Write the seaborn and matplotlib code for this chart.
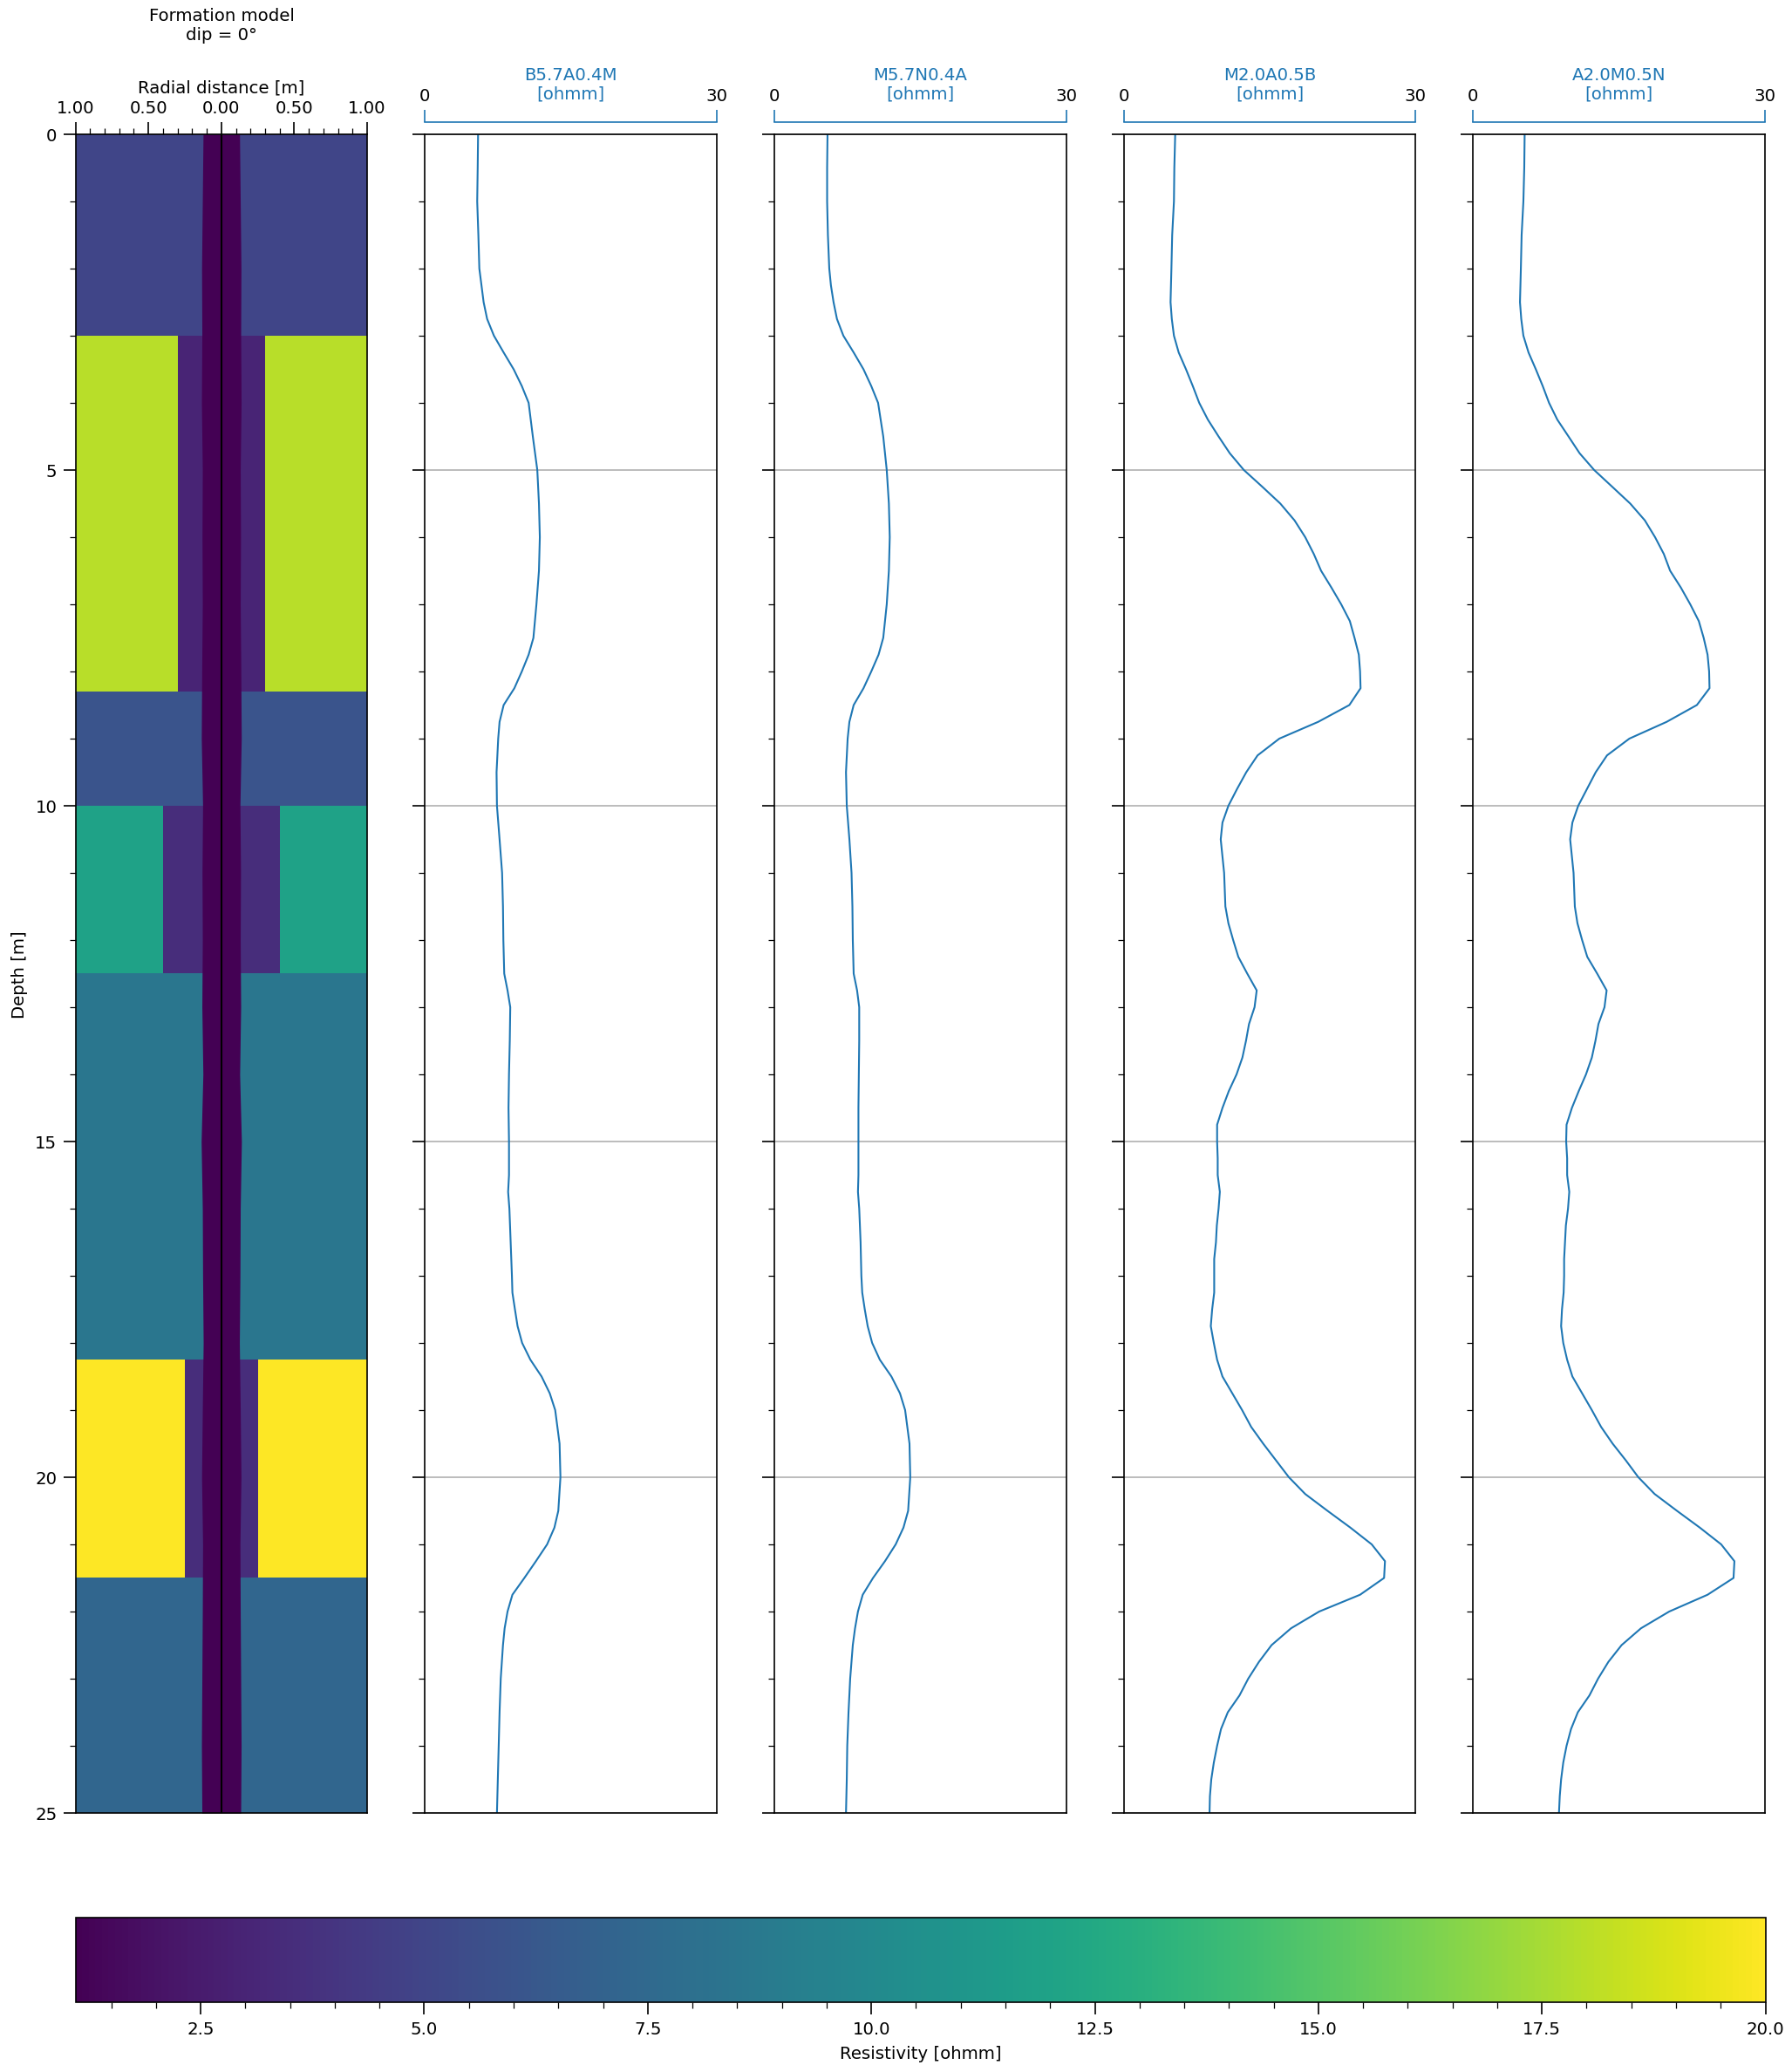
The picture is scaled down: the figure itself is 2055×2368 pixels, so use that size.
import numpy as np
import matplotlib
matplotlib.use("Agg")
import matplotlib.pyplot as plt
import seaborn as sns
from matplotlib.colors import Normalize
from matplotlib.ticker import MultipleLocator, FuncFormatter

plt.rcParams["font.size"] = 9.5
plt.rcParams["axes.linewidth"] = 0.8

# ---- formation model ----
layer_top = [0.0, 3.0, 8.3, 10.0, 12.5, 18.25, 21.5]
layer_bot = [3.0, 8.3, 10.0, 12.5, 18.25, 21.5, 25.0]
layer_rt = [5.0, 18.0, 6.0, 12.0, 8.5, 20.0, 7.3]
layer_rxo = [5.0, 3.0, 6.0, 3.5, 8.5, 3.5, 7.3]
layer_rinv = [0.0, 0.30, 0.0, 0.40, 0.0, 0.25, 0.0]
mud_res = 1.1

mud_depth = [0, 1, 2, 3, 4, 5, 6, 7, 8, 9, 10, 11, 12, 13, 14, 15, 16, 17, 18, 19, 20, 21, 22, 23, 24, 25]
mud_radius = [0.125, 0.130, 0.135, 0.133, 0.136, 0.130, 0.132, 0.130, 0.134, 0.137, 0.128, 0.132, 0.130,
              0.133, 0.126, 0.138, 0.130, 0.128, 0.124, 0.130, 0.135, 0.128, 0.130, 0.133, 0.136, 0.133]

# ---- logs ----
depth_a = [0, 0.5, 1, 1.5, 2, 2.25, 2.5, 2.75, 3, 3.25, 3.5, 3.75, 4, 4.5, 5, 5.5, 6, 6.5, 7, 7.5,
           7.75, 8, 8.25, 8.5, 8.75, 9, 9.5, 10, 10.5, 11, 11.5, 12, 12.5, 12.75, 13, 13.5, 14, 14.5,
           15, 15.5, 15.75, 16, 16.5, 17, 17.25, 17.5, 17.75, 18, 18.25, 18.5, 18.75, 19, 19.5, 20,
           20.5, 20.75, 21, 21.25, 21.5, 21.75, 22, 22.25, 22.5, 23, 23.5, 24, 24.5, 25]
log_b57a04m = [5.47, 5.43, 5.38, 5.5, 5.6, 5.82, 6.04, 6.4, 7.1, 8.1,
               9.13, 9.97, 10.67, 11.1, 11.56, 11.73, 11.82, 11.73, 11.47, 11.16,
               10.67, 9.97, 9.2, 8.1, 7.68, 7.54, 7.37, 7.41, 7.68, 7.94,
               8.03, 8.07, 8.16, 8.5, 8.78, 8.73, 8.65, 8.6, 8.65, 8.65,
               8.56, 8.69, 8.82, 8.95, 9.0, 9.26, 9.53, 10.0, 10.85, 12.0,
               12.84, 13.4, 13.85, 13.94, 13.72, 13.32, 12.57, 11.42, 10.23, 9.0,
               8.5, 8.2, 8.03, 7.8, 7.68, 7.59, 7.5, 7.41]
log_m57n04a = [5.47, 5.43, 5.43, 5.51, 5.65, 5.82, 6.09, 6.44, 7.1, 8.16,
               9.17, 9.97, 10.67, 11.2, 11.56, 11.78, 11.87, 11.78, 11.56, 11.2,
               10.72, 9.97, 9.17, 8.16, 7.72, 7.54, 7.37, 7.45, 7.72, 7.94,
               8.03, 8.07, 8.16, 8.51, 8.73, 8.73, 8.69, 8.65, 8.65, 8.65,
               8.6, 8.73, 8.87, 8.95, 9.04, 9.3, 9.6, 10.06, 10.85, 12.04,
               12.92, 13.45, 13.9, 13.98, 13.76, 13.28, 12.48, 11.38, 10.15, 9.09,
               8.6, 8.3, 8.07, 7.8, 7.63, 7.5, 7.45, 7.37]

depth_b = [0, 0.5, 1, 1.5, 2,
           2.5, 2.75, 3, 3.25, 3.5, 3.75, 4, 4.25, 4.5, 4.75, 5, 5.25, 5.5, 5.75, 6, 6.25, 6.5, 6.75,
           7, 7.25, 7.5, 7.75, 8, 8.25, 8.5, 8.75, 9, 9.25, 9.5, 9.75, 10, 10.25, 10.5,
           11, 11.5,
           11.75, 12, 12.25, 12.5, 12.75, 13, 13.25, 13.5, 13.75, 14, 14.25, 14.5, 14.75, 15, 15.25,
           15.5, 15.75, 16, 16.25, 16.5, 16.75, 17, 17.25, 17.5, 17.75, 18, 18.25, 18.5, 18.75, 19,
           19.25, 19.5, 19.75, 20, 20.25, 20.5, 20.75, 21, 21.25, 21.5, 21.75, 22, 22.25, 22.5, 22.75,
           23, 23.25, 23.5, 23.75, 24, 24.25, 24.5, 24.75, 25]
log_m20a05b = [5.29, 5.2, 5.16, 4.98, 4.9,
               4.81, 4.94, 5.16, 5.65, 6.4, 7.1, 7.76, 8.65, 9.75, 10.9, 12.35, 14.25, 16.1, 17.56,
               18.66, 19.54, 20.29, 21.35, 22.36, 23.25, 23.73, 24.17, 24.3, 24.35, 23.2, 20.0, 16.0,
               13.76, 12.6, 11.65, 10.76, 10.15, 9.97,
               10.32, 10.45,
               10.76, 11.25, 11.78, 12.7, 13.67, 13.45, 12.88, 12.57, 12.2, 11.6,
               10.8, 10.15, 9.6, 9.6, 9.66, 9.66, 9.88, 9.75, 9.57, 9.48,
               9.3, 9.3, 9.3, 9.09, 8.95, 9.26, 9.6, 10.15, 11.16, 12.17,
               13.1, 14.34, 15.66, 16.98, 18.66, 20.95, 23.3, 25.5, 26.86, 26.77,
               24.3, 20.1, 17.2, 15.2, 13.9, 12.8, 11.9, 10.7, 10.0, 9.6,
               9.26, 9.0, 8.86, 8.82]
log_a20m05n = [5.29, 5.25, 5.16, 4.98, 4.9,
               4.81, 4.94, 5.16, 5.69, 6.44, 7.15, 7.8, 8.65, 9.8, 10.94, 12.44, 14.3, 16.15, 17.65,
               18.7, 19.6, 20.25, 21.35, 22.32, 23.2, 23.7, 24.1, 24.26, 24.3, 23.0, 19.9, 16.06,
               13.76, 12.6, 11.7, 10.8, 10.2, 9.97,
               10.32, 10.45,
               10.72, 11.2, 11.73, 12.75, 13.72, 13.5, 12.88, 12.57, 12.2, 11.6,
               10.85, 10.15, 9.6, 9.56, 9.66, 9.66, 9.88, 9.75, 9.53, 9.44,
               9.35, 9.35, 9.3, 9.13, 9.04, 9.26, 9.66, 10.2, 11.2, 12.2,
               13.15, 14.34, 15.7, 16.98, 18.66, 20.95, 23.3, 25.5, 26.86, 26.77,
               24.1, 20.16, 17.25, 15.26, 13.9, 12.84, 11.95, 10.76, 10.06, 9.6,
               9.26, 9.04, 8.9, 8.82]

log_names = ["B5.7A0.4M", "M5.7N0.4A", "M2.0A0.5B", "A2.0M0.5N"]
log_depths = [depth_a, depth_a, depth_b, depth_b]
log_values = [log_b57a04m, log_m57n04a, log_m20a05b, log_a20m05n]

blue = "#1f77b4"
cmap = plt.get_cmap("viridis")
norm = Normalize(vmin=1.1, vmax=20.0)

fig = plt.figure(figsize=(13.7, 15.793), dpi=150)

# formation panel
ax0 = fig.add_axes([0.0421, 0.1220, 0.1628, 0.8126])
r_edges = np.linspace(-1, 1, 401)
r_mid = 0.5 * (r_edges[:-1] + r_edges[1:])
y_edges = np.array(layer_top + [layer_bot[-1]])
grid = np.array([np.where(np.abs(r_mid) < layer_rinv[k], layer_rxo[k], layer_rt[k])
                 for k in range(len(layer_top))])
mesh = ax0.pcolormesh(r_edges, y_edges, grid, cmap=cmap, norm=norm, shading="flat")
mud_r = np.array(mud_radius)
ax0.fill_betweenx(mud_depth, -mud_r, mud_r, color=cmap(norm(mud_res)), lw=0)
ax0.axvline(0, color="k", lw=1)
ax0.set_xlim(-1, 1)
ax0.set_ylim(25, 0)
ax0.xaxis.tick_top()
ax0.xaxis.set_label_position("top")
ax0.set_xticks([-1, -0.5, 0, 0.5, 1])
ax0.xaxis.set_minor_locator(MultipleLocator(0.1))
ax0.xaxis.set_major_formatter(FuncFormatter(lambda v, p: f"{abs(v):.2f}"))
ax0.set_xlabel("Radial distance [m]")
ax0.set_ylabel("Depth [m]")
ax0.set_yticks(range(0, 26, 5))
ax0.yaxis.set_minor_locator(MultipleLocator(1))
ax0.tick_params(which="major", length=6.7)
ax0.tick_params(which="minor", length=3.4)
fig.text(0.1236, 1 - 9 / 2369, "Formation model\ndip = 0°", ha="center", va="top", fontsize=9.5)

# log panels
for i, (name, dep, val) in enumerate(zip(log_names, log_depths, log_values)):
    ax = fig.add_axes([0.2371 + i * 0.195, 0.1220, 0.1628, 0.8126])
    sns.lineplot(x=val, y=dep, ax=ax, sort=False, estimator=None, orient="y",
                 color=blue, lw=1)
    ax.set_xlim(0, 30)
    ax.set_ylim(25, 0)
    ax.set_xlabel("")
    ax.set_ylabel("")
    ax.set_xticks([])
    ax.set_yticks(range(0, 26, 5))
    ax.yaxis.set_minor_locator(MultipleLocator(1))
    ax.tick_params(axis="y", labelleft=False)
    ax.tick_params(which="major", length=6.7)
    ax.tick_params(which="minor", length=3.4)
    ax.grid(axis="y", which="major", color="#b0b0b0", lw=0.8)
    ax.set_axisbelow(True)

    top = ax.twiny()
    top.set_xlim(0, 30)
    top.set_xticks([0, 30])
    top.spines["top"].set_position(("outward", 6.7))
    top.spines["top"].set_color(blue)
    for s in ["left", "right", "bottom"]:
        top.spines[s].set_visible(False)
    top.tick_params(axis="x", colors=blue, labelcolor="k", length=6.7)
    ax.text(0.5, 1.0192, name + "\n[ohmm]", transform=ax.transAxes, ha="center",
            va="bottom", color=blue, fontsize=9.5)

# colorbar
cax = fig.add_axes([0.0421, 0.0304, 0.9431, 0.041])
cb = fig.colorbar(mesh, cax=cax, orientation="horizontal")
cb.set_label("Resistivity [ohmm]")
cb.minorticks_on()
cax.tick_params(which="major", length=6.7)
cax.tick_params(which="minor", length=3.4)

fig.savefig("out.png", dpi=150)
